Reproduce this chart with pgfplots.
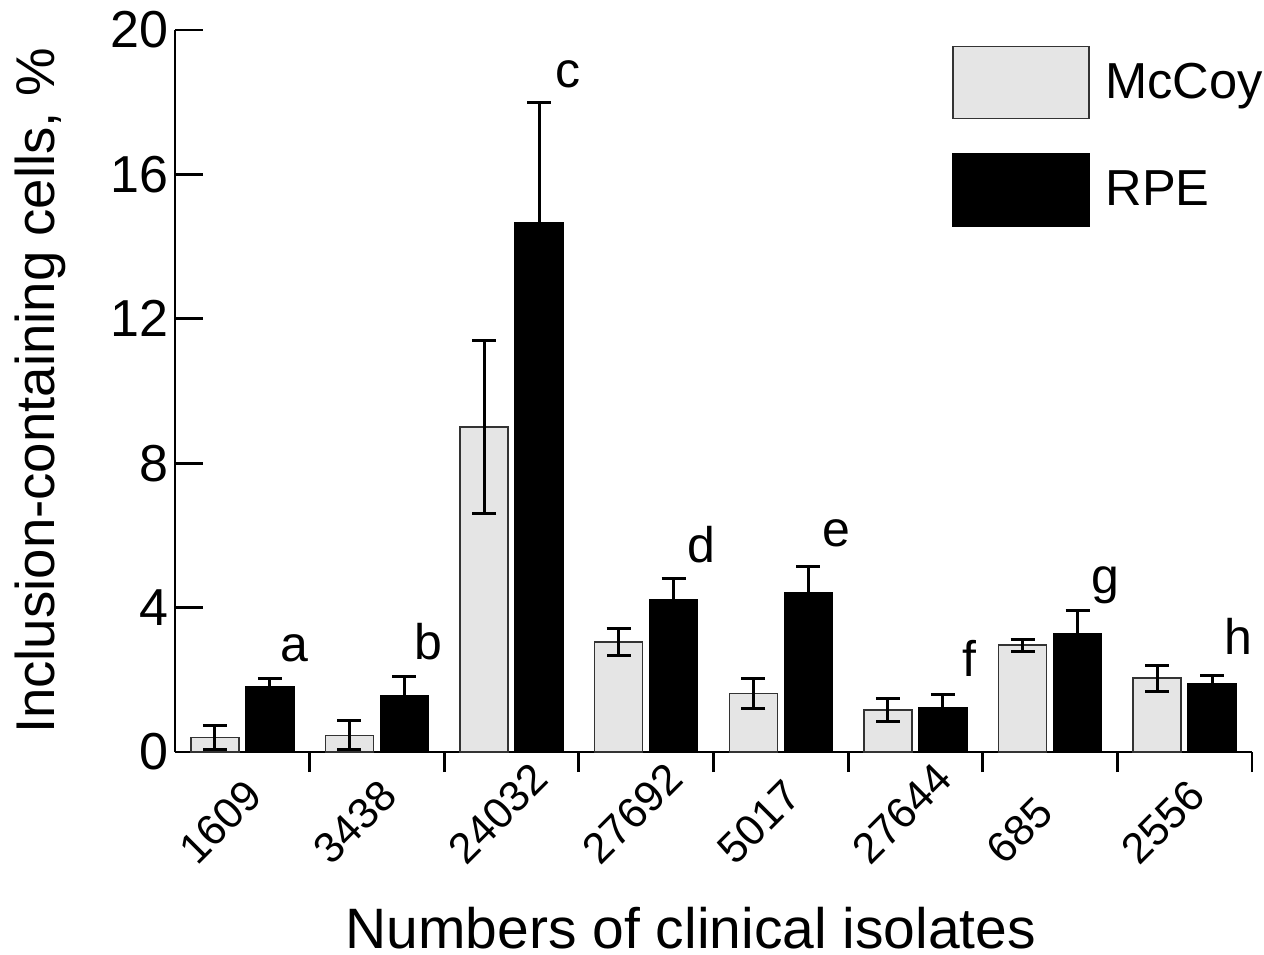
\documentclass[border=0pt]{standalone}
\usepackage{pgfplots}
\pgfplotsset{compat=1.18}
\usepackage{pgfplotstable}
\usepackage{fontspec}
\setmainfont{Liberation Sans}

% x: group index, mc/rpe: mean %, mce/rpee: error
\pgfplotstableread{
x mc   mce  rpe   rpee
0 0.40 0.34 1.80  0.25
1 0.46 0.40 1.55  0.53
2 9.00 2.40 14.65 3.33
3 3.05 0.38 4.22  0.58
4 1.62 0.41 4.42  0.72
5 1.16 0.31 1.22  0.36
6 2.96 0.17 3.27  0.66
7 2.05 0.36 1.88  0.25
}\data

\begin{document}
\begin{tikzpicture}
\begin{axis}[
  scale only axis,
  width=538.5pt, height=361pt,
  xmin=-0.5, xmax=7.5,
  ymin=0, ymax=20,
  clip=false,
  axis x line*=bottom, axis y line*=left,
  xtick pos=lower, ytick pos=left,
  axis line style={-, line width=1.4pt},
  every tick/.style={black, line width=1.4pt},
  tick align=inside,
  major tick length=14pt,
  minor tick length=10pt,
  ytick={0,4,...,20},
  xtick={0,...,7},
  xticklabels={1609,3438,24032,27692,5017,27644,685,2556},
  minor xtick={0.5,1.5,2.5,3.5,4.5,5.5,6.5,7.5},
  major x tick style={draw=none},
  /pgf/number format/assume math mode=true,
  yticklabel style={font=\fontsize{26}{31}\selectfont, inner sep=3pt},
  xticklabel style={font=\fontsize{21.5}{26}\selectfont, inner sep=0pt,
    anchor=south west, xshift=-22.5pt, yshift=-43.5pt, rotate=45},
  xlabel={Numbers of clinical isolates},
  ylabel={Inclusion-containing cells, \%},
  xlabel style={font=\fontsize{28.5}{34}\selectfont,
    at={(axis description cs:0.479,-0.2715)}, anchor=base},
  ylabel style={font=\fontsize{27.3}{32}\selectfont,
    at={(axis description cs:-0.1253,0.5)}, anchor=center},
  ybar=3.5pt, bar width=24pt,
  legend image code/.code={\draw[#1,/tikz/.cd] (0pt,-18pt) rectangle (68pt,18pt);},
  legend style={at={(0.721,0.979)}, anchor=north west, draw=none, fill=none,
    inner sep=0pt, row sep=17pt, font=\fontsize{25.3}{30}\selectfont,
    /tikz/every odd column/.append style={column sep=6pt}},
  legend cell align=left,
]
\addplot[fill=black!10, draw=black!80, line width=0.8pt,
  error bars/.cd, y dir=both, y explicit, error mark=|,
  error bar style={black, line width=1.5pt},
  error mark options={black, line width=1.5pt, mark size=6pt}]
  table[x=x, y=mc, y error=mce]{\data};
\addplot[fill=black, draw=black, line width=0.8pt,
  error bars/.cd, y dir=plus, y explicit, error mark=|,
  error bar style={black, line width=1.5pt},
  error mark options={black, line width=1.5pt, mark size=6pt}]
  table[x=x, y=rpe, y error=rpee]{\data};
\legend{McCoy, RPE}

\begin{scope}[every node/.style={anchor=base, inner sep=0pt, font=\fontsize{25}{30}\selectfont}]
\node at (axis cs:0.39,2.52) {a};
\node at (axis cs:1.38,2.55) {b};
\node at (axis cs:2.42,18.42) {c};
\node at (axis cs:3.41,5.26) {d};
\node at (axis cs:4.41,5.70) {e};
\node at (axis cs:5.40,2.08) {f};
\node at (axis cs:6.41,4.40) {g};
\node at (axis cs:7.40,2.69) {h};
\end{scope}
\end{axis}
% page margins round the axis box, as in the reference
\pgfresetboundingbox
\path ([shift={(-87.5pt,-101pt)}]current axis.south west)
  rectangle ([shift={(6pt,15pt)}]current axis.north east);
\end{tikzpicture}
\end{document}
